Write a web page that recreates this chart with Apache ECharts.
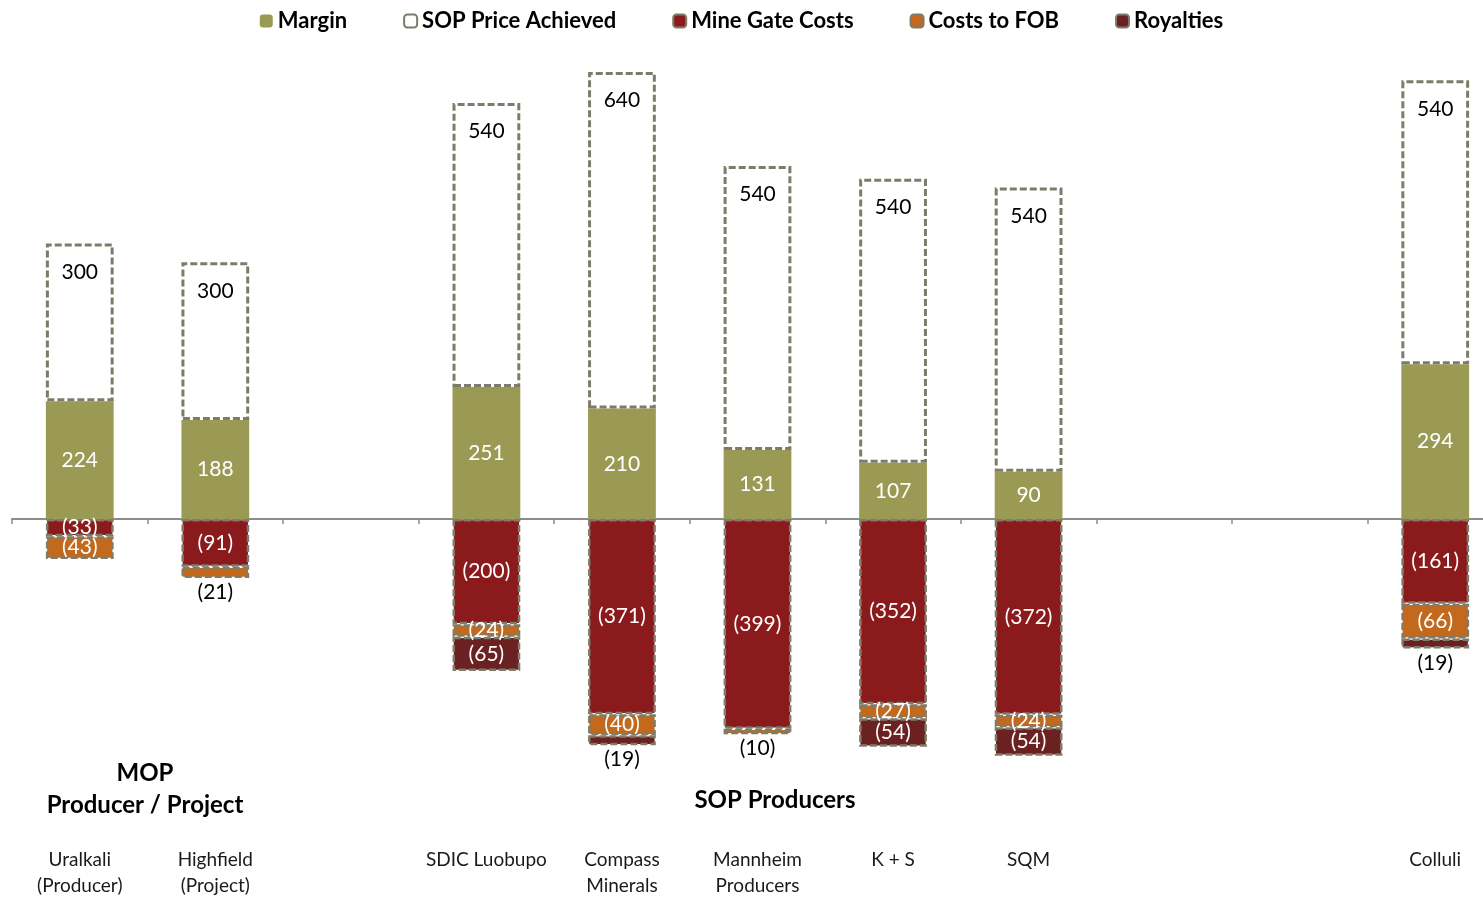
<!DOCTYPE html>
<html>
<head>
<meta charset="utf-8">
<script src="https://cdn.jsdelivr.net/npm/echarts@6/dist/echarts.min.js"></script>
<style>html,body{margin:0;padding:0;background:#fff;}#c{width:1483px;height:898px;}</style>
</head>
<body>
<div id="c"></div>
<script>
var categories = ['Uralkali\n(Producer)', 'Highfield\n(Project)', '', 'SDIC Luobupo', 'Compass\nMinerals', 'Mannheim\nProducers', 'K + S', 'SQM', '', '', 'Colluli'];
var margin = [224, 188, null, 251, 210, 131, 107, 90, null, null, 294];
var sopPrice = [300, 300, null, 540, 640, 540, 540, 540, null, null, 540];
var mineGate = [-33, -91, null, -200, -371, -399, -352, -372, null, null, -161];
var costsFob = [-43, -21, null, -24, -40, -10, -27, -24, null, null, -66];
var royalties = [null, null, null, -65, -19, null, -54, -54, null, null, -19];

var FONT = 'Lato, "Open Sans", sans-serif';
var BORDER = '#7d7c6a';
var dash = [7, 3];

function fmt(p) {
  var v = p.value;
  if (v === null || v === undefined) return '';
  return v < 0 ? '(' + (-v) + ')' : String(v);
}
function negData(arr) {
  return arr.map(function (v) {
    if (v === null) return null;
    if (Math.abs(v) < 23) {
      return { value: v, label: { position: 'bottom', color: '#000', distance: 4 } };
    }
    return v;
  });
}
var negItem = function (color) {
  return { color: color, borderColor: BORDER, borderWidth: 2.5, borderType: dash };
};
var negLabel = { show: true, position: 'inside', color: '#fff', fontSize: 21, fontFamily: FONT, formatter: fmt };

var chart = echarts.init(document.getElementById('c'), null, { renderer: 'canvas' });
chart.setOption({
  animation: false,
  backgroundColor: '#fff',
  textStyle: { fontFamily: FONT },
  legend: {
    top: 5, left: 'center', itemGap: 56, itemWidth: 13, itemHeight: 13,
    textStyle: { fontSize: 22, fontWeight: 'bold', color: '#000', fontFamily: FONT },
    data: ['Margin', 'SOP Price Achieved', 'Mine Gate Costs', 'Costs to FOB', 'Royalties']
  },
  grid: { left: 12, right: -20, top: 45.6, bottom: 63.4, containLabel: false, outerBoundsMode: 'none' },
  xAxis: [
    {
      type: 'category', data: categories, position: 'bottom',
      axisLine: { show: false, onZero: false }, axisTick: { show: false },
      axisLabel: { interval: 0, fontSize: 19, color: '#1a1a1a', lineHeight: 26, margin: 12, fontFamily: FONT }
    },
    {
      type: 'category', data: categories, position: 'top',
      axisLine: { show: true, onZero: true, lineStyle: { color: '#8c8c8c', width: 2 } },
      axisTick: { show: true, inside: true, length: 5, lineStyle: { color: '#8c8c8c', width: 1.5 } },
      axisLabel: { show: false }
    }
  ],
  yAxis: { type: 'value', min: -600, max: 900, show: false, splitLine: { show: false } },
  series: [
    {
      name: 'Margin', type: 'bar', stack: 'a', barWidth: '50%', xAxisIndex: 0,
      data: margin,
      itemStyle: { color: '#9b9a54' },
      label: { show: true, position: 'inside', color: '#fff', fontSize: 21, fontFamily: FONT, formatter: fmt }
    },
    {
      name: 'SOP Price Achieved', type: 'bar', stack: 'a', barWidth: '50%', xAxisIndex: 0,
      data: sopPrice,
      itemStyle: { color: '#fff', borderColor: BORDER, borderWidth: 3, borderType: dash },
      label: { show: true, position: 'insideTop', distance: 18, color: '#000', fontSize: 21, fontFamily: FONT, formatter: fmt }
    },
    {
      name: 'Mine Gate Costs', type: 'bar', stack: 'a', barWidth: '50%', xAxisIndex: 0,
      data: negData(mineGate), itemStyle: negItem('#8a1a1c'), label: negLabel
    },
    {
      name: 'Costs to FOB', type: 'bar', stack: 'a', barWidth: '50%', xAxisIndex: 0,
      data: negData(costsFob), itemStyle: negItem('#c2691d'), label: negLabel
    },
    {
      name: 'Royalties', type: 'bar', stack: 'a', barWidth: '50%', xAxisIndex: 0,
      data: negData(royalties), itemStyle: negItem('#6b2121'), label: negLabel
    }
  ],
  graphic: [
    {
      type: 'text', x: 145, y: 757,
      style: { text: 'MOP\nProducer / Project', fontSize: 24, fontWeight: 'bold', fontFamily: FONT, fill: '#000', align: 'center', lineHeight: 32 }
    },
    {
      type: 'text', x: 775, y: 784,
      style: { text: 'SOP Producers', fontSize: 24, fontWeight: 'bold', fontFamily: FONT, fill: '#000', align: 'center', lineHeight: 32 }
    }
  ]
});
</script>
</body>
</html>
